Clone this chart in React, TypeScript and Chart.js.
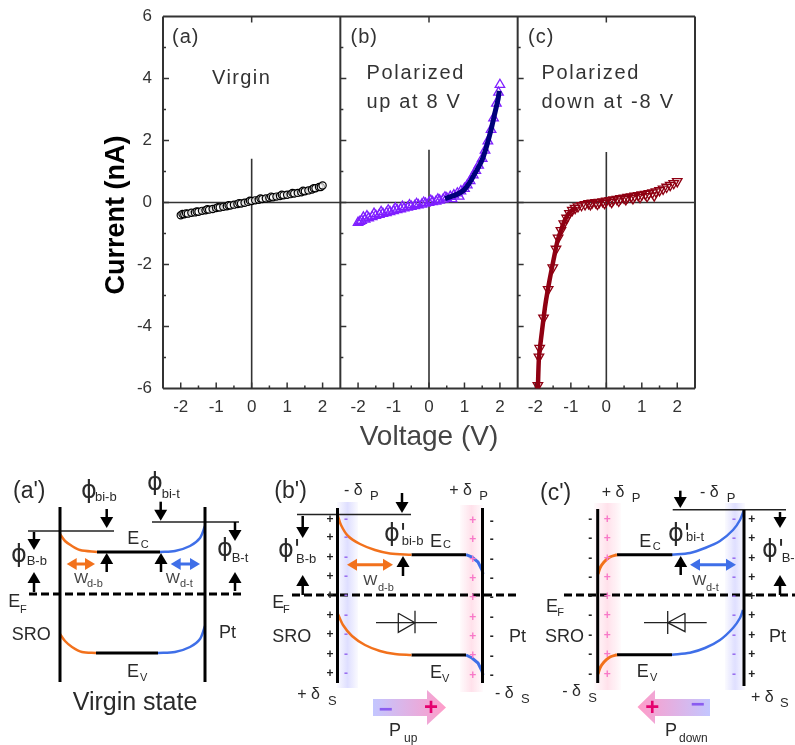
import React, { useEffect, useRef } from "react";
import { Chart, registerables } from "chart.js";
Chart.register(...registerables);

// ---------- I-V data ----------
const yTickValues = [-6, -4, -2, 0, 2, 4, 6];
const xTickValues = [-2, -1, 0, 1, 2];
const virginV = [-2,-1.95,-1.9,-1.85,-1.8,-1.7,-1.6,-1.55,-1.5,-1.4,-1.3,-1.25,-1.2,-1.1,-1,-0.95,-0.9,-0.8,-0.7,-0.65,-0.6,-0.5,-0.4,-0.35,-0.3,-0.2,-0.1,-0.05,0,0.1,0.2,0.25,0.3,0.4,0.5,0.55,0.6,0.7,0.8,0.85,0.9,1,1.1,1.15,1.2,1.3,1.4,1.45,1.5,1.6,1.7,1.75,1.8,1.9,1.95,2];
const virginI = [-0.41,-0.37,-0.38,-0.35,-0.36,-0.33,-0.32,-0.29,-0.3,-0.27,-0.25,-0.22,-0.23,-0.21,-0.18,-0.15,-0.16,-0.14,-0.12,-0.09,-0.1,-0.07,-0.05,-0.02,-0.03,-0.01,0.02,0.06,0.05,0.07,0.09,0.13,0.11,0.13,0.15,0.19,0.17,0.19,0.21,0.25,0.23,0.25,0.27,0.31,0.29,0.31,0.33,0.38,0.36,0.39,0.42,0.46,0.46,0.5,0.5,0.55];
const upV = [-2,-1.95,-1.9,-1.85,-1.8,-1.75,-1.7,-1.6,-1.55,-1.5,-1.4,-1.35,-1.3,-1.2,-1.15,-1.1,-1,-0.95,-0.9,-0.8,-0.75,-0.7,-0.6,-0.55,-0.5,-0.4,-0.35,-0.3,-0.2,-0.15,-0.1,0,0.05,0.1,0.2,0.25,0.3,0.4,0.45,0.5,0.6,0.65,0.7,0.8,0.85,0.9,1,1.08,1.16,1.25,1.32,1.4,1.5,1.58,1.66,1.75,1.82,1.9,1.96,2];
const upI = [-0.65,-0.62,-0.58,-0.48,-0.54,-0.44,-0.5,-0.46,-0.36,-0.42,-0.39,-0.3,-0.36,-0.33,-0.25,-0.3,-0.27,-0.19,-0.24,-0.21,-0.13,-0.18,-0.16,-0.08,-0.13,-0.11,-0.04,-0.08,-0.06,0,-0.03,0,0.06,0.02,0.04,0.1,0.07,0.1,0.17,0.14,0.19,0.12,0.24,0.3,0.2,0.37,0.45,0.56,0.7,0.88,1.03,1.2,1.42,1.68,1.98,2.35,2.72,3.2,3.55,3.8];
const upFitV = [0.45,0.7,0.9,1,1.15,1.25,1.4,1.5,1.62,1.75,1.85,1.95,1.98];
const upFitI = [0.13,0.22,0.33,0.42,0.65,0.85,1.15,1.38,1.8,2.35,2.85,3.35,3.6];
const downV = [-1.93,-1.9,-1.88,-1.77,-1.64,-1.51,-1.42,-1.36,-1.28,-1.2,-1.12,-1.04,-0.96,-0.88,-0.8,-0.7,-0.6,-0.5,-0.45,-0.4,-0.3,-0.25,-0.2,-0.1,-0.05,0,0.1,0.15,0.2,0.3,0.35,0.4,0.5,0.55,0.6,0.7,0.75,0.8,0.9,0.95,1,1.1,1.15,1.2,1.3,1.35,1.4,1.5,1.6,1.7,1.8,1.9,2];
const downI = [-5.9,-4.98,-4.7,-3.72,-2.8,-2.1,-1.5,-1.14,-0.9,-0.68,-0.5,-0.35,-0.25,-0.18,-0.13,-0.09,-0.06,-0.03,-0.06,-0.01,0,-0.05,0.01,0.03,-0.02,0.05,0.07,0.01,0.09,0.11,0.05,0.13,0.15,0.1,0.17,0.19,0.13,0.21,0.23,0.17,0.25,0.27,0.2,0.29,0.32,0.22,0.35,0.39,0.44,0.5,0.56,0.62,0.68];
const downFitV = [-1.93,-1.9,-1.82,-1.72,-1.6,-1.48,-1.38,-1.28,-1.16,-1.02,-0.85];
const downFitI = [-6,-5,-4.2,-3.3,-2.5,-1.8,-1.25,-0.9,-0.55,-0.3,-0.15];

const pts = (xs: number[], ys: number[]) => xs.map((x, i) => ({ x, y: ys[i] }));
const INK = "#333333";
const SANS = "'Liberation Sans', Arial, sans-serif";
const PHI = "'DejaVu Sans', sans-serif";

const xAxis = (extra: object = {}) => ({
  type: "linear", position: "bottom", stack: "panels", stackWeight: 1, min: -2.5, max: 2.5,
  grid: { display: false, drawTicks: false }, border: { display: false },
  afterBuildTicks: (s: any) => { s.ticks = xTickValues.map((value) => ({ value })); },
  afterFit: (s: any) => { s.height = 66; },
  ticks: { color: INK, font: { family: SANS, size: 17 }, padding: 9, maxRotation: 0, autoSkip: false, callback: (v: any) => String(v) },
  ...extra,
});

const panelText = [
  { t: "(a)", x: 172, y: 43, ls: 1 }, { t: "Virgin", x: 212, y: 84, ls: 1.4 },
  { t: "(b)", x: 350.5, y: 43, ls: 1 }, { t: "Polarized", x: 366.5, y: 79, ls: 1.7 }, { t: "up at 8 V", x: 366.5, y: 108, ls: 1.66 },
  { t: "(c)", x: 528, y: 43, ls: 1 }, { t: "Polarized", x: 541.5, y: 79, ls: 1.7 }, { t: "down at -8 V", x: 541.5, y: 108, ls: 1.75 },
];

const framePlugin = {
  id: "frame",
  beforeDatasetsDraw(chart: any) {
    const { ctx, chartArea: a, scales } = chart;
    const y = scales.y;
    ctx.save();
    ctx.strokeStyle = INK;
    const seg = (x0: number, y0: number, x1: number, y1: number, w = 2) => {
      ctx.lineWidth = w; ctx.beginPath(); ctx.moveTo(x0, y0); ctx.lineTo(x1, y1); ctx.stroke();
    };
    seg(a.left, a.top, a.right, a.top);
    seg(a.left, a.bottom, a.right, a.bottom);
    seg(a.left, a.top, a.left, a.bottom);
    seg(a.right, a.top, a.right, a.bottom);
    const ids = ["x1", "x2", "x3"];
    ids.forEach((id, n) => {
      const sx = scales[id];
      if (n > 0) seg(sx.left, a.top, sx.left, a.bottom);
      for (let v = -6; v <= 6; v += 1) {
        if (v === -6 || v === 6) continue;
        seg(sx.left, y.getPixelForValue(v), sx.left + (v % 2 === 0 ? 6 : 3), y.getPixelForValue(v), 1.5);
      }
      for (let v = -2; v <= 2; v += 0.5) {
        const px = sx.getPixelForValue(v);
        seg(px, a.bottom, px, a.bottom - (Number.isInteger(v) ? 6 : 3), 1.5);
      }
      seg(sx.getPixelForValue(0), a.top, sx.getPixelForValue(0), a.top + 6, 1.5);
    });
    ctx.restore();
  },
  afterDatasetsDraw(chart: any) {
    const { ctx } = chart;
    ctx.save();
    ctx.fillStyle = INK;
    ctx.textBaseline = "alphabetic";
    ctx.font = `20px ${SANS}`;
    panelText.forEach((p) => {
      (ctx as any).letterSpacing = `${p.ls}px`;
      ctx.fillText(p.t, p.x, p.y);
    });
    (ctx as any).letterSpacing = "0px";
    // y axis title
    ctx.translate(117, 215);
    ctx.rotate(-Math.PI / 2);
    ctx.textAlign = "center";
    ctx.textBaseline = "middle";
    ctx.fillStyle = "#000";
    ctx.font = `bold 27px ${SANS}`;
    ctx.fillText("Current (nA)", 0, 0);
    ctx.restore();
  },
};

// ---------- band diagrams (panel coordinates of the sketch) ----------
type P = { x: number; y: number };
const ORANGE = "#f2711c";
const BLUE = "#3f6fe8";
const line = (points: number[][], color = "#000", width = 2.5, dash?: number[], tension = 0) => ({ points, color, width, dash, tension });
const axisA = [[60, 507], [60, 682]], axisB = [[205, 507], [205, 682]];
const diagramLines = [
  // (a')
  line(axisA, "#000", 3), line(axisB, "#000", 3),
  line([[28, 531], [114, 531]], "#222", 1.6), line([[152, 522], [239, 522]], "#222", 1.6),
  line([[60, 534], [65, 541], [72, 546], [80, 550], [97, 552]], ORANGE, 2.5, undefined, 0.3),
  line([[97, 552], [160, 552]], "#000", 3),
  line([[160, 552], [175, 551], [190, 546], [200, 538], [205, 526]], BLUE, 2.5, undefined, 0.3),
  line([[60, 634], [65, 641], [72, 647], [82, 652], [96, 653]], ORANGE, 2.5, undefined, 0.3),
  line([[96, 653], [158, 653]], "#000", 3),
  line([[158, 653], [175, 652], [190, 647], [200, 639], [205, 626]], BLUE, 2.5, undefined, 0.3),
  line([[29, 594], [245, 594]], "#000", 3, [8, 4]),
  // (b')
  line([[337.5, 508], [337.5, 683]], "#000", 3), line([[482.5, 508], [482.5, 683]], "#000", 3),
  line([[297, 514.5], [411, 514.5]], "#222", 1.6),
  line([[337.5, 514.5], [341, 525], [348, 536], [360, 544], [375, 550], [390, 553.5], [411.5, 554.7]], ORANGE, 2.5, undefined, 0.3),
  line([[411.5, 554.7], [466, 554.7]], "#000", 3),
  line([[466, 554.7], [472, 557], [478, 562], [482, 570], [483, 574]], BLUE, 3),
  line([[337.5, 613], [343, 625], [352, 636], [365, 645], [380, 651], [395, 654], [411.5, 655]], ORANGE, 2.5, undefined, 0.3),
  line([[411.5, 655], [466, 655]], "#000", 3),
  line([[466, 655], [472, 658], [478, 663], [482, 671], [483, 675]], BLUE, 3),
  line([[292, 595], [520, 595]], "#000", 3, [8, 4]),
  line([[376, 622.7], [437, 622.7]], "#222", 1.3),
  line([[398.3, 613.3], [398.3, 632.3], [415, 622.7], [398.3, 613.3]], "#222", 1.3),
  line([[415, 610.7], [415, 633.3]], "#222", 1.3),
  // (c')
  line([[597.7, 509], [597.7, 683]], "#000", 3), line([[744, 510], [744, 686]], "#000", 3),
  line([[672.7, 509.7], [786, 509.7]], "#222", 1.6),
  line([[598, 574], [600, 568], [604, 562], [610, 557], [617, 554.7]], ORANGE, 3, undefined, 0.3),
  line([[617, 554.7], [672.3, 554.7]], "#000", 3),
  line([[672, 554.7], [690, 553], [705, 548], [720, 541], [733, 530], [740, 520], [744, 510]], BLUE, 2.5, undefined, 0.3),
  line([[598, 674], [600, 668], [604, 662], [610, 657], [617, 654.7]], ORANGE, 3, undefined, 0.3),
  line([[617, 654.7], [672, 654.7]], "#000", 3),
  line([[672, 654.7], [690, 652.7], [705, 648], [720, 640], [733, 628], [740, 618], [743, 610]], BLUE, 2.5, undefined, 0.3),
  line([[564, 595], [795, 595]], "#000", 3, [8, 4]),
  line([[644, 622.7], [706.7, 622.7]], "#222", 1.3),
  line([[685, 613.3], [685, 631.7], [667.7, 622.7], [685, 613.3]], "#222", 1.3),
  line([[667.7, 611], [667.7, 634]], "#222", 1.3),
];

const bands = [
  { x0: 337, x1: 358, y0: 502, y1: 688, c: "120,120,255" },
  { x0: 460, x1: 483, y0: 505, y1: 692, c: "255,130,170" },
  { x0: 594, x1: 621, y0: 503, y1: 690, c: "255,130,170" },
  { x0: 725, x1: 745, y0: 503, y1: 690, c: "120,120,255" },
];
const bigArrows = [
  { x0: 373, x1: 427, tip: 446, y0: 699, y1: 716, h0: 690, h1: 725 },
  { x0: 710, x1: 655, tip: 637.5, y0: 699, y1: 716, h0: 690, h1: 724 },
];
const vArrows = [
  [106.7, 509, 528], [160.7, 501.7, 520.7], [34, 532, 550], [34, 592, 572], [235, 522, 541], [235, 591, 572], [106.7, 572, 553], [161, 572, 553],
  [402, 493, 513], [302.7, 516, 538], [302.7, 595, 575], [403, 576, 556],
  [680.3, 490.7, 508], [780, 512, 528], [780, 595, 575], [680.7, 575, 556],
];
const hArrows = [
  { x0: 66.7, x1: 95, y: 564, c: ORANGE }, { x0: 170.7, x1: 200, y: 564, c: BLUE },
  { x0: 347, x1: 393, y: 564.7, c: ORANGE }, { x0: 690, x1: 736, y: 564.7, c: BLUE },
];
const rowB = [519.3, 538, 557.7, 576.7, 596, 615.7, 635, 654.3, 674];
const rowC = [519.3, 539, 558.3, 577.3, 596.7, 616, 635.7, 655, 674.3];
const marks = [
  { t: "+", x: 330, c: "#222", ys: rowB }, { t: "-", x: 346, c: "#9a70f0", ys: rowB },
  { t: "+", x: 472.7, c: "#f878c8", ys: rowB.map((v) => v + 1.5) }, { t: "-", x: 491.7, c: "#222", ys: rowB.map((v) => v + 2) },
  { t: "-", x: 590.3, c: "#222", ys: rowC }, { t: "+", x: 607.3, c: "#f878c8", ys: rowC },
  { t: "-", x: 734, c: "#9a70f0", ys: rowC }, { t: "+", x: 751.7, c: "#222", ys: rowC },
];
const T = (t: string, x: number, y: number, size = 17, fam = SANS, color = "#2a2a2a") => ({ t, x, y, size, fam, color });
const diagramText = [
  T("(a')", 13, 498, 23), T("\u03D5", 81, 498, 24, PHI), T("bi-b", 95, 501, 13), T("\u03D5", 147, 490, 24, PHI), T("bi-t", 161.7, 498, 13),
  T("E", 127.3, 544, 18), T("C", 140.7, 548, 11), T("\u03D5", 11, 562, 24, PHI), T("B-b", 26.7, 565, 13),
  T("W", 74, 583, 15, SANS, "#444"), T("d-b", 87, 587, 11, SANS, "#444"), T("W", 165.7, 583, 15, SANS, "#444"), T("d-t", 180, 587, 11, SANS, "#444"),
  T("\u03D5", 217, 556, 24, PHI), T("B-t", 231.7, 561.7, 13), T("E", 8.3, 607, 18), T("F", 20, 613, 11), T("SRO", 11.7, 640, 18), T("Pt", 219, 637.7, 18),
  T("E", 127, 677, 18), T("V", 140, 681, 11), T("Virgin state", 72.7, 710, 25),
  T("(b')", 274.3, 498, 23), T("- \u03B4", 344, 495, 16), T("P", 370, 500, 13), T("+ \u03B4", 449.3, 495, 16), T("P", 479.3, 500, 13),
  T("+ \u03B4", 297.3, 699, 16), T("S", 328, 705, 13), T("- \u03B4", 495, 697.7, 16), T("S", 521, 703, 13),
  T("\u03D5'", 278, 556.7, 24, PHI), T("B-b", 296, 563.3, 13), T("\u03D5'", 384, 540.7, 24, PHI), T("bi-b", 401.7, 545, 13),
  T("E", 430, 546.7, 18), T("C", 443, 548, 11), T("W", 363.3, 585, 15, SANS, "#444"), T("d-b", 378, 590.7, 11, SANS, "#444"),
  T("E", 272.3, 608, 18), T("F", 283, 612.7, 11), T("SRO", 272.3, 641.7, 18), T("Pt", 509, 641.7, 18), T("E", 430, 678, 18), T("V", 442, 681.7, 11),
  T("P", 389, 736, 18), T("up", 404, 741.7, 12),
  T("(c')", 540, 500, 23), T("+ \u03B4", 601.7, 496.7, 16), T("P", 631.7, 501.7, 13), T("- \u03B4", 700, 496.7, 16), T("P", 726.7, 501.7, 13),
  T("\u03D5'", 668, 540.7, 24, PHI), T("bi-t", 686, 540.7, 13), T("E", 639.3, 546.7, 18), T("C", 652.7, 550, 11),
  T("\u03D5'", 762, 557, 24, PHI), T("B-t", 781.7, 561.7, 13), T("W", 692.3, 585, 15, SANS, "#444"), T("d-t", 706, 590.7, 11, SANS, "#444"),
  T("E", 546, 611.7, 18), T("F", 557.3, 616, 11), T("SRO", 545, 641.7, 18), T("Pt", 769, 641.7, 18), T("E", 636.7, 676.7, 18), T("V", 650, 681, 11),
  T("- \u03B4", 562.3, 696, 16), T("S", 588.3, 701.7, 13), T("+ \u03B4", 751, 701.7, 16), T("S", 780, 707, 13),
  T("P", 665, 736, 18), T("down", 679, 741.7, 12),
];
const bigSigns = [
  { t: "\u2212", x: 385.7, y: 710, c: "#8a5cf0" }, { t: "+", x: 431, y: 708, c: "#e5006e" },
  { t: "+", x: 652.3, y: 708, c: "#e5006e" }, { t: "\u2212", x: 697.7, y: 705, c: "#8a5cf0" },
];

const diagramPlugin = {
  id: "diagram",
  beforeDatasetsDraw(chart: any) {
    const { ctx, scales: { x: sx, y: sy } } = chart;
    const X = (v: number) => sx.getPixelForValue(v), Y = (v: number) => sy.getPixelForValue(v);
    ctx.save();
    bands.forEach((b) => {
      const g = ctx.createLinearGradient(X(b.x0), 0, X(b.x1), 0);
      g.addColorStop(0, `rgba(${b.c},0.03)`); g.addColorStop(0.5, `rgba(${b.c},0.24)`); g.addColorStop(1, `rgba(${b.c},0.03)`);
      ctx.fillStyle = g;
      ctx.fillRect(X(b.x0), Y(b.y0), X(b.x1) - X(b.x0), Y(b.y1) - Y(b.y0));
    });
    bigArrows.forEach((a) => {
      const g = ctx.createLinearGradient(X(a.x0), 0, X(a.tip), 0);
      g.addColorStop(0, "#c3c6ff"); g.addColorStop(1, "#ff9cc8");
      ctx.fillStyle = g;
      ctx.beginPath();
      ctx.moveTo(X(a.x0), Y(a.y0)); ctx.lineTo(X(a.x1), Y(a.y0)); ctx.lineTo(X(a.x1), Y(a.h0));
      ctx.lineTo(X(a.tip), Y((a.h0 + a.h1) / 2)); ctx.lineTo(X(a.x1), Y(a.h1)); ctx.lineTo(X(a.x1), Y(a.y1)); ctx.lineTo(X(a.x0), Y(a.y1));
      ctx.closePath(); ctx.fill();
    });
    ctx.restore();
  },
  afterDatasetsDraw(chart: any) {
    const { ctx, scales: { x: sx, y: sy } } = chart;
    const X = (v: number) => sx.getPixelForValue(v), Y = (v: number) => sy.getPixelForValue(v);
    ctx.save();
    vArrows.forEach(([x, y0, y1]) => {
      const d = y1 > y0 ? 1 : -1;
      ctx.strokeStyle = ctx.fillStyle = "#000";
      ctx.lineWidth = 2.5;
      ctx.beginPath(); ctx.moveTo(X(x), Y(y0)); ctx.lineTo(X(x), Y(y1) - d * 8); ctx.stroke();
      ctx.beginPath(); ctx.moveTo(X(x), Y(y1)); ctx.lineTo(X(x) - 6.5, Y(y1) - d * 11); ctx.lineTo(X(x) + 6.5, Y(y1) - d * 11); ctx.closePath(); ctx.fill();
    });
    hArrows.forEach((a) => {
      ctx.strokeStyle = ctx.fillStyle = a.c;
      ctx.lineWidth = 3;
      ctx.beginPath(); ctx.moveTo(X(a.x0) + 6, Y(a.y)); ctx.lineTo(X(a.x1) - 6, Y(a.y)); ctx.stroke();
      [[a.x0, 1], [a.x1, -1]].forEach(([x, d]) => {
        ctx.beginPath(); ctx.moveTo(X(x), Y(a.y)); ctx.lineTo(X(x) + d * 10, Y(a.y) - 6); ctx.lineTo(X(x) + d * 10, Y(a.y) + 6); ctx.closePath(); ctx.fill();
      });
    });
    ctx.textAlign = "center"; ctx.textBaseline = "middle"; ctx.font = `bold 12px ${SANS}`;
    marks.forEach((m) => {
      ctx.fillStyle = m.c;
      m.ys.forEach((y) => ctx.fillText(m.t, X(m.x), Y(y)));
    });
    ctx.font = `bold 24px ${SANS}`;
    bigSigns.forEach((s) => { ctx.fillStyle = s.c; ctx.fillText(s.t, X(s.x), Y(s.y)); });
    ctx.textAlign = "left"; ctx.textBaseline = "alphabetic";
    diagramText.forEach((d) => {
      ctx.fillStyle = d.color; ctx.font = `${d.size}px ${d.fam}`;
      ctx.fillText(d.t, X(d.x), Y(d.y));
    });
    ctx.restore();
  },
};

const base = { animation: false, responsive: false, maintainAspectRatio: false, plugins: { legend: { display: false }, tooltip: { enabled: false } } };

export default function App() {
  const topRef = useRef<HTMLCanvasElement>(null);
  const botRef = useRef<HTMLCanvasElement>(null);
  useEffect(() => {
    const frameSet = (id: string, top: number) => [
      { xAxisID: id, data: [{ x: -2.5, y: 0 }, { x: 2.5, y: 0 }], showLine: true, borderColor: INK, borderWidth: 1.6, pointRadius: 0 },
      { xAxisID: id, data: [{ x: 0, y: top }, { x: 0, y: -6 }], showLine: true, borderColor: INK, borderWidth: 1.6, pointRadius: 0 },
    ];
    const top = new Chart(topRef.current as any, {
      type: "scatter",
      data: {
        datasets: [
          { xAxisID: "x2", data: pts(upFitV, upFitI), showLine: true, tension: 0.2, borderColor: "#00007a", borderWidth: 5, pointRadius: 0 },
          { xAxisID: "x3", data: pts(downFitV, downFitI), showLine: true, tension: 0.2, borderColor: "#8f0012", borderWidth: 4.5, pointRadius: 0 },
          { xAxisID: "x1", data: pts(virginV, virginI), pointStyle: "circle", pointRadius: 3.6, borderColor: "#000", backgroundColor: "rgba(255,255,255,0.6)", borderWidth: 1.2 },
          { xAxisID: "x2", data: pts(upV, upI), pointStyle: "triangle", pointRadius: 5.5, borderColor: "#7f1fff", backgroundColor: "rgba(255,255,255,0)", borderWidth: 1.3 },
          { xAxisID: "x3", data: pts(downV, downI), pointStyle: "triangle", pointRotation: 180, pointRadius: 5.5, borderColor: "#8f0012", backgroundColor: "rgba(255,255,255,0)", borderWidth: 1.3 },
          ...frameSet("x1", 1.41), ...frameSet("x2", 1.7), ...frameSet("x3", 1.63),
        ],
      },
      options: {
        ...base,
        layout: { padding: { left: 0, right: 100, top: 16.5, bottom: 5.5 } },
        scales: {
          x1: xAxis(),
          x2: xAxis({ title: { display: true, text: "Voltage (V)", color: "#444", font: { family: SANS, size: 28 }, padding: 0 } }),
          x3: xAxis(),
          y: {
            type: "linear", position: "left", min: -6, max: 6,
            grid: { display: false, drawTicks: false }, border: { display: false },
            afterBuildTicks: (s: any) => { s.ticks = yTickValues.map((value) => ({ value })); },
            afterFit: (s: any) => { s.width = 163; s.paddingTop = 0; s.paddingBottom = 0; },
            ticks: { color: INK, font: { family: SANS, size: 17 }, padding: 11, callback: (v: any) => String(v) },
          },
        },
      } as any,
      plugins: [framePlugin],
    } as any);
    const bottom = new Chart(botRef.current as any, {
      type: "scatter",
      data: {
        datasets: diagramLines.map((l) => ({
          data: l.points.map(([x, y]): P => ({ x, y })), showLine: true, tension: l.tension, borderColor: l.color,
          borderWidth: l.width, borderDash: l.dash, pointRadius: 0, clip: false,
        })),
      },
      options: {
        ...base,
        layout: { padding: 0 },
        scales: {
          x: { type: "linear", min: 0, max: 795, display: false },
          y: { type: "linear", min: 450, max: 745, reverse: true, display: false },
        },
      } as any,
      plugins: [diagramPlugin],
    } as any);
    return () => { top.destroy(); bottom.destroy(); };
  }, []);
  const soft = { position: "absolute", left: 0, width: 795, filter: "blur(0.45px)" } as React.CSSProperties;
  return (
    <div style={{ position: "absolute", left: 0, top: 0, width: 795, height: 745, background: "#fff" }}>
      <canvas ref={topRef} width={795} height={460} style={{ ...soft, top: 0, height: 460 }} />
      <canvas ref={botRef} width={795} height={295} style={{ ...soft, top: 450, height: 295 }} />
    </div>
  );
}
